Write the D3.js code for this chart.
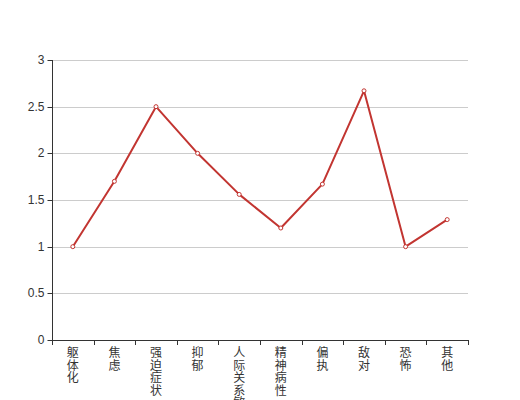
<!DOCTYPE html>
<html><head><meta charset="utf-8">
<script src="https://cdn.jsdelivr.net/npm/d3@7/dist/d3.min.js"></script>
<style>body{margin:0;background:#fff;}svg{display:block;}</style>
</head><body>
<svg id="c" width="520" height="400"></svg>
<script>
const categories = ["躯体化","焦虑","强迫症状","抑郁","人际关系敏感","精神病性","偏执","敌对","恐怖","其他"];
const values = [1.0, 1.7, 2.5, 2.0, 1.56, 1.2, 1.67, 2.67, 1.0, 1.29];
const yTicks = [0, 0.5, 1, 1.5, 2, 2.5, 3];

(function () {
const svg = d3.select("#c");
const mL = 52, mR = 468, mT = 60, mB = 340;
const font = "'Noto Sans CJK SC', 'Noto Sans', sans-serif";
const numFont = "'Liberation Sans', Arial, sans-serif";

const x = d3.scaleBand().domain(categories).range([mL, mR]);
const y = d3.scaleLinear().domain([0, 3]).range([mB, mT]);

// grid
svg.append("g").selectAll("line").data(yTicks.filter(d => d > 0)).join("line")
  .attr("x1", mL).attr("x2", mR)
  .attr("y1", d => Math.round(y(d)) + 0.5).attr("y2", d => Math.round(y(d)) + 0.5)
  .attr("stroke", "#ccc").attr("stroke-width", 1);

// y axis
const yAxis = svg.append("g").attr("transform", `translate(${mL + 0.5},0)`)
  .call(d3.axisLeft(y).tickValues(yTicks).tickSize(5).tickPadding(3).tickFormat(d3.format("")));
yAxis.select(".domain").attr("stroke", "#333").attr("d", `M0,${mT}V${mB}`);
yAxis.selectAll(".tick line").attr("stroke", "#333");
yAxis.selectAll(".tick").attr("transform", d => `translate(0,${Math.round(y(d)) + 0.5})`);
yAxis.selectAll("text").attr("fill", "#333").style("font-size", "12px").style("font-family", numFont);

// x axis
const xg = svg.append("g");
xg.append("line").attr("x1", mL).attr("x2", mR).attr("y1", mB + 0.5).attr("y2", mB + 0.5)
  .attr("stroke", "#333");
const bounds = categories.map(c => x(c)).concat([mR]);
xg.selectAll("line.tk").data(bounds).join("line").attr("class", "tk")
  .attr("x1", d => Math.round(d) + 0.5).attr("x2", d => Math.round(d) + 0.5)
  .attr("y1", mB).attr("y2", mB + 5).attr("stroke", "#333");
const lbl = xg.selectAll("text.lb").data(categories).join("text").attr("class", "lb")
  .attr("fill", "#333").style("font-size", "12px").style("font-family", font)
  .attr("text-anchor", "middle");
lbl.each(function(c) {
  const t = d3.select(this);
  const cx = x(c) + x.bandwidth() / 2;
  Array.from(c).forEach((ch, i) => {
    t.append("tspan").attr("x", cx).attr("y", 357 + i * 12.5).text(ch);
  });
});

// line
const line = d3.line().x((d, i) => x(categories[i]) + x.bandwidth() / 2).y(d => y(d));
svg.append("path").datum(values).attr("d", line)
  .attr("fill", "none").attr("stroke", "#c23531").attr("stroke-width", 2).attr("stroke-linejoin", "round");
svg.append("g").selectAll("circle").data(values).join("circle")
  .attr("cx", (d, i) => x(categories[i]) + x.bandwidth() / 2).attr("cy", d => y(d))
  .attr("r", 2).attr("fill", "#fff").attr("stroke", "#c23531").attr("stroke-width", 1);
})();
</script>
</body></html>
